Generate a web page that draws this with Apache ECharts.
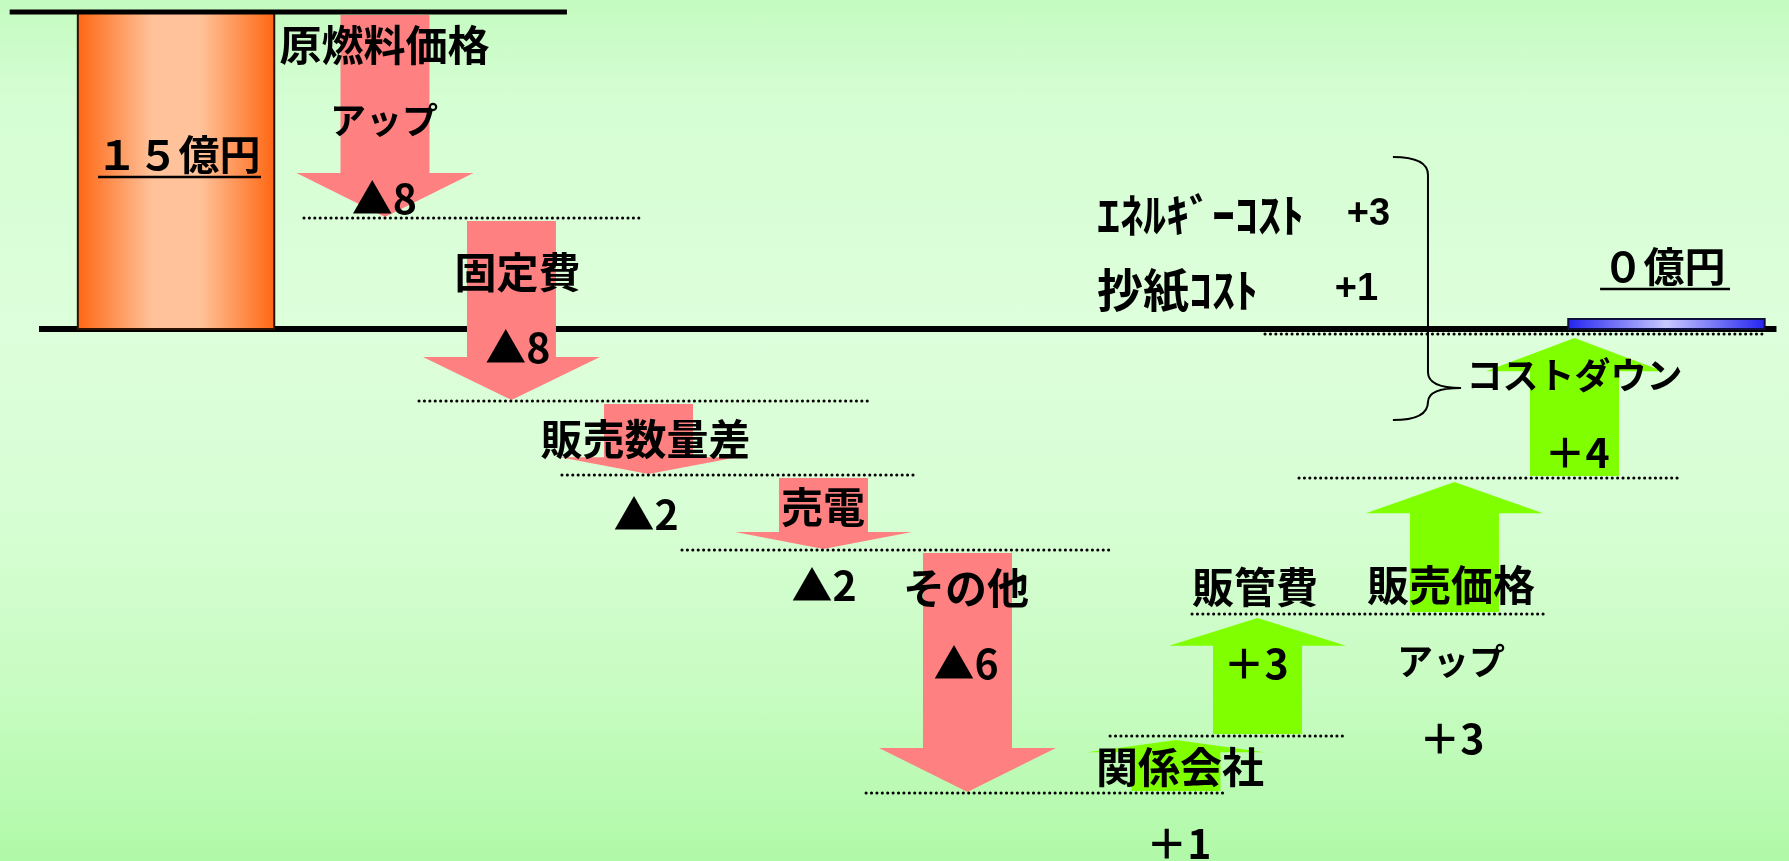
<!DOCTYPE html>
<html><head><meta charset="utf-8">
<script src="https://cdn.jsdelivr.net/npm/echarts@6/dist/echarts.min.js"></script>
<style>
html,body{margin:0;padding:0;overflow:hidden;}
#c{width:1789px;height:861px;background:linear-gradient(to bottom,#c4fbc0 0%,#d6fed4 12%,#ddffdb 38%,#d8fed5 58%,#c8fcc2 80%,#b0f9a8 100%);}
</style>
</head><body><div id="c"></div>
<script>
// ---------------- DATA ----------------
const categories = ['原燃料価格\nアップ','固定費','販売数量差','売電','その他','関係会社','販管費','販売価格\nアップ','コストダウン'];
const deltas = [-8,-8,-2,-2,-6,1,3,3,4];
const valueLabels = ['▲8','▲8','▲2','▲2','▲6','＋1','＋3','＋3','＋4'];
const startValue = 15, endValue = 0;
const startLabel = '１５億円', endLabel = '０億円';
// cumulative levels as they are drawn in the picture (the original is not drawn to scale)
const drawnLevels = [15, 5.25, -3.41, -6.91, -10.46, -21.96, -19.26, -13.49, -7.05, -0.24];
const costDownItems = ['ｴﾈﾙｷﾞｰｺｽﾄ','抄紙ｺｽﾄ'];
const costDownValues = ['+3','+1'];

// ---------------- LAYOUT (axis units: x 0..100, y in drawn levels) ----------------
const stepX = [21.52, 28.59, 36.25, 46.03, 54.08, 65.73, 70.29, 81.30, 88.01];
const startX = 9.84, endX = 93.15;
const connFrom = [16.99, 23.42, 31.41, 38.12, 48.41, 62.05, 66.63, 72.61, 70.71];
const connTo   = [35.83, 48.57, 51.31, 62.16, 68.36, 75.29, 86.47, 93.96, 98.77];
const nameLayout = [[[21.49,13.44],[21.46,9.89]],[[28.93,2.70]],[[36.08,-5.21]],[[46.00,-8.42]],[[54.00,-12.26]],[[65.96,-20.73]],[[70.15,-12.21]],[[81.11,-12.12],[81.11,-15.71]],[[88.01,-2.18]]];
const valueLayout = [[21.49,6.20],[28.95,-0.85],[36.11,-8.80],[46.06,-12.12],[54.00,-15.85],[65.90,-24.33],[70.21,-15.81],[81.16,-19.40],[88.15,-5.82]];
const startLabelPos = [9.98, 8.28], endLabelPos = [93.01, 2.98];
const underlines = [[5.48,14.59,7.19],[89.44,96.70,1.89]];
const costDownPos = [[61.32,5.40],[61.32,1.89]];
const costDownValPos = [[77.70,5.44],[77.03,1.85]];
const topRule = [0.54, 31.69, 15], baseRule = [2.18, 99.3, 0];
const brace = {xl:77.86, xs:79.82, xt:81.67, yt:8.14, yp:-2.79, yb:-4.31};

const SHAFT_W = 4.975, HEAD_W = 9.894, BAR_W = 10.98;
const PINK = '#ff8080', GREEN = '#80ff00';
const JP = '"Noto Sans CJK JP","Noto Sans CJK SC",sans-serif';

// ---------------- BUILD ----------------
const arrowData = stepX.map((x,i)=>[x, drawnLevels[i], drawnLevels[i+1], deltas[i]]);
const barData = [[startX, 0, startValue, 0],[endX, 0, endValue, 1]];
const connData = connFrom.map((f,i)=>[f, connTo[i], drawnLevels[i+1]]);

const texts = [];
categories.forEach((c,i)=>{
  c.split('\n').forEach((line,j)=>{
    const kana = /^[\u30A0-\u30FF]+$/.test(line);
    texts.push({t:line, p:nameLayout[i][j], font:'bold '+(kana?36:42)+'px '+JP, align:'center'});
  });
  texts.push({t:valueLabels[i], p:valueLayout[i], font:'bold 41px '+JP, align:'center'});
});
texts.push({t:startLabel, p:startLabelPos, font:'bold 41px '+JP, align:'center'});
texts.push({t:endLabel, p:endLabelPos, font:'bold 41px '+JP, align:'center'});
costDownItems.forEach((t,i)=>{
  texts.push({t:t, p:costDownPos[i], font:'bold 46px '+JP, align:'left'});
  texts.push({t:costDownValues[i], p:costDownValPos[i], font:'bold 38px "Liberation Sans",Arial,sans-serif', align:'right'});
});

const chart = echarts.init(document.getElementById('c'), null, {renderer:'canvas'});

function renderArrow(params, api){
  const x = api.value(0), y0 = api.value(1), y1 = api.value(2);
  const p0 = api.coord([x, y0]), p1 = api.coord([x, y1]);
  const sw = api.size([SHAFT_W,0])[0], hw = api.size([HEAD_W,0])[0];
  const dir = p1[1] > p0[1] ? 1 : -1;
  const startY = p0[1] + dir*(dir>0?3:2);
  const tipY = p1[1] - dir*(dir>0?1:4);
  const len = Math.abs(tipY-startY);
  const head = Math.min(len*0.24, 44);
  const baseY = tipY - dir*head;
  const cx = p0[0];
  return {type:'polygon', shape:{points:[[cx-sw/2,startY],[cx+sw/2,startY],[cx+sw/2,baseY],[cx+hw/2,baseY],[cx,tipY],[cx-hw/2,baseY],[cx-sw/2,baseY]]},
    style:{fill: dir>0?PINK:GREEN}};
}
function renderBar(params, api){
  const x = api.value(0), lo = api.value(1), hi = api.value(2), kind = api.value(3);
  const pLo = api.coord([x, lo]), pHi = api.coord([x, hi]);
  const w = api.size([BAR_W,0])[0];
  let top = pHi[1]; const bottom = pLo[1];
  if (bottom-top < 10) top = bottom-10;
  const grad = kind===0
    ? new echarts.graphic.LinearGradient(0,0,1,0,[{offset:0,color:'#ff6612'},{offset:0.38,color:'#ffc29a'},{offset:0.62,color:'#ffc29a'},{offset:1,color:'#ff6612'}])
    : new echarts.graphic.LinearGradient(0,0,1,0,[{offset:0,color:'#2323f0'},{offset:0.5,color:'#c8c8ff'},{offset:1,color:'#2323f0'}]);
  return {type:'rect', shape:{x:pLo[0]-w/2, y:top, width:w, height:bottom-top}, style:{fill:grad, stroke: kind===0?'#2a1200':'#101040', lineWidth:2}};
}
function renderConn(params, api){
  const a = api.coord([api.value(0), api.value(2)]), b = api.coord([api.value(1), api.value(2)]);
  return {type:'line', shape:{x1:a[0],y1:a[1],x2:b[0],y2:b[1]}, style:{stroke:'#000', lineWidth:3, lineDash:[0.1,5.3], lineCap:'round'}};
}
function renderRule(params, api){
  const a = api.coord([api.value(0), api.value(2)]), b = api.coord([api.value(1), api.value(2)]);
  return {type:'line', shape:{x1:a[0],y1:a[1],x2:b[0],y2:b[1]}, style:{stroke:'#000', lineWidth:api.value(3)}};
}
function renderText(params, api){
  const it = texts[api.value(0)];
  const p = api.coord(it.p);
  return {type:'text', x:p[0], y:p[1], style:{text:it.t, font:it.font, fill:'#000', align:it.align, verticalAlign:'middle'}};
}
function renderBrace(params, api){
  const b = brace;
  const tl = api.coord([b.xl, b.yt]), s = api.coord([b.xs, b.yt]), tp = api.coord([b.xt, b.yp]), bl = api.coord([b.xl, b.yb]);
  const xs = s[0], yt = tl[1], yp = tp[1], yb = bl[1];
  const d = 'M'+tl[0]+' '+yt+' Q'+xs+' '+yt+' '+xs+' '+(yt+18)+' L'+xs+' '+(yp-16)+' Q'+xs+' '+yp+' '+tp[0]+' '+yp+
            ' Q'+xs+' '+yp+' '+xs+' '+(yp+14)+' Q'+xs+' '+yb+' '+bl[0]+' '+yb;
  return {type:'path', shape:{pathData:d}, style:{fill:null, stroke:'#000', lineWidth:2}};
}

chart.setOption({
  animation:false,
  grid:{left:0,right:0,top:0,bottom:0},
  xAxis:{type:'value', min:0, max:100, show:false},
  yAxis:{type:'value', min:-25.18, max:15.57, show:false},
  series:[
    {type:'custom', z:1, renderItem:renderRule, data:[[baseRule[0],baseRule[1],baseRule[2],6]]},
    {type:'custom', z:2, renderItem:renderBar, data:barData},
    {type:'custom', z:3, renderItem:renderArrow, data:arrowData},
    {type:'custom', z:4, renderItem:renderRule, data:[[topRule[0],topRule[1],topRule[2],5]].concat(underlines.map(u=>[u[0],u[1],u[2],2.5]))},
    {type:'custom', z:5, renderItem:renderConn, data:connData},
    {type:'custom', z:6, renderItem:renderBrace, data:[[0]]},
    {type:'custom', z:7, renderItem:renderText, data:texts.map((t,i)=>[i])}
  ]
});
</script></body></html>
